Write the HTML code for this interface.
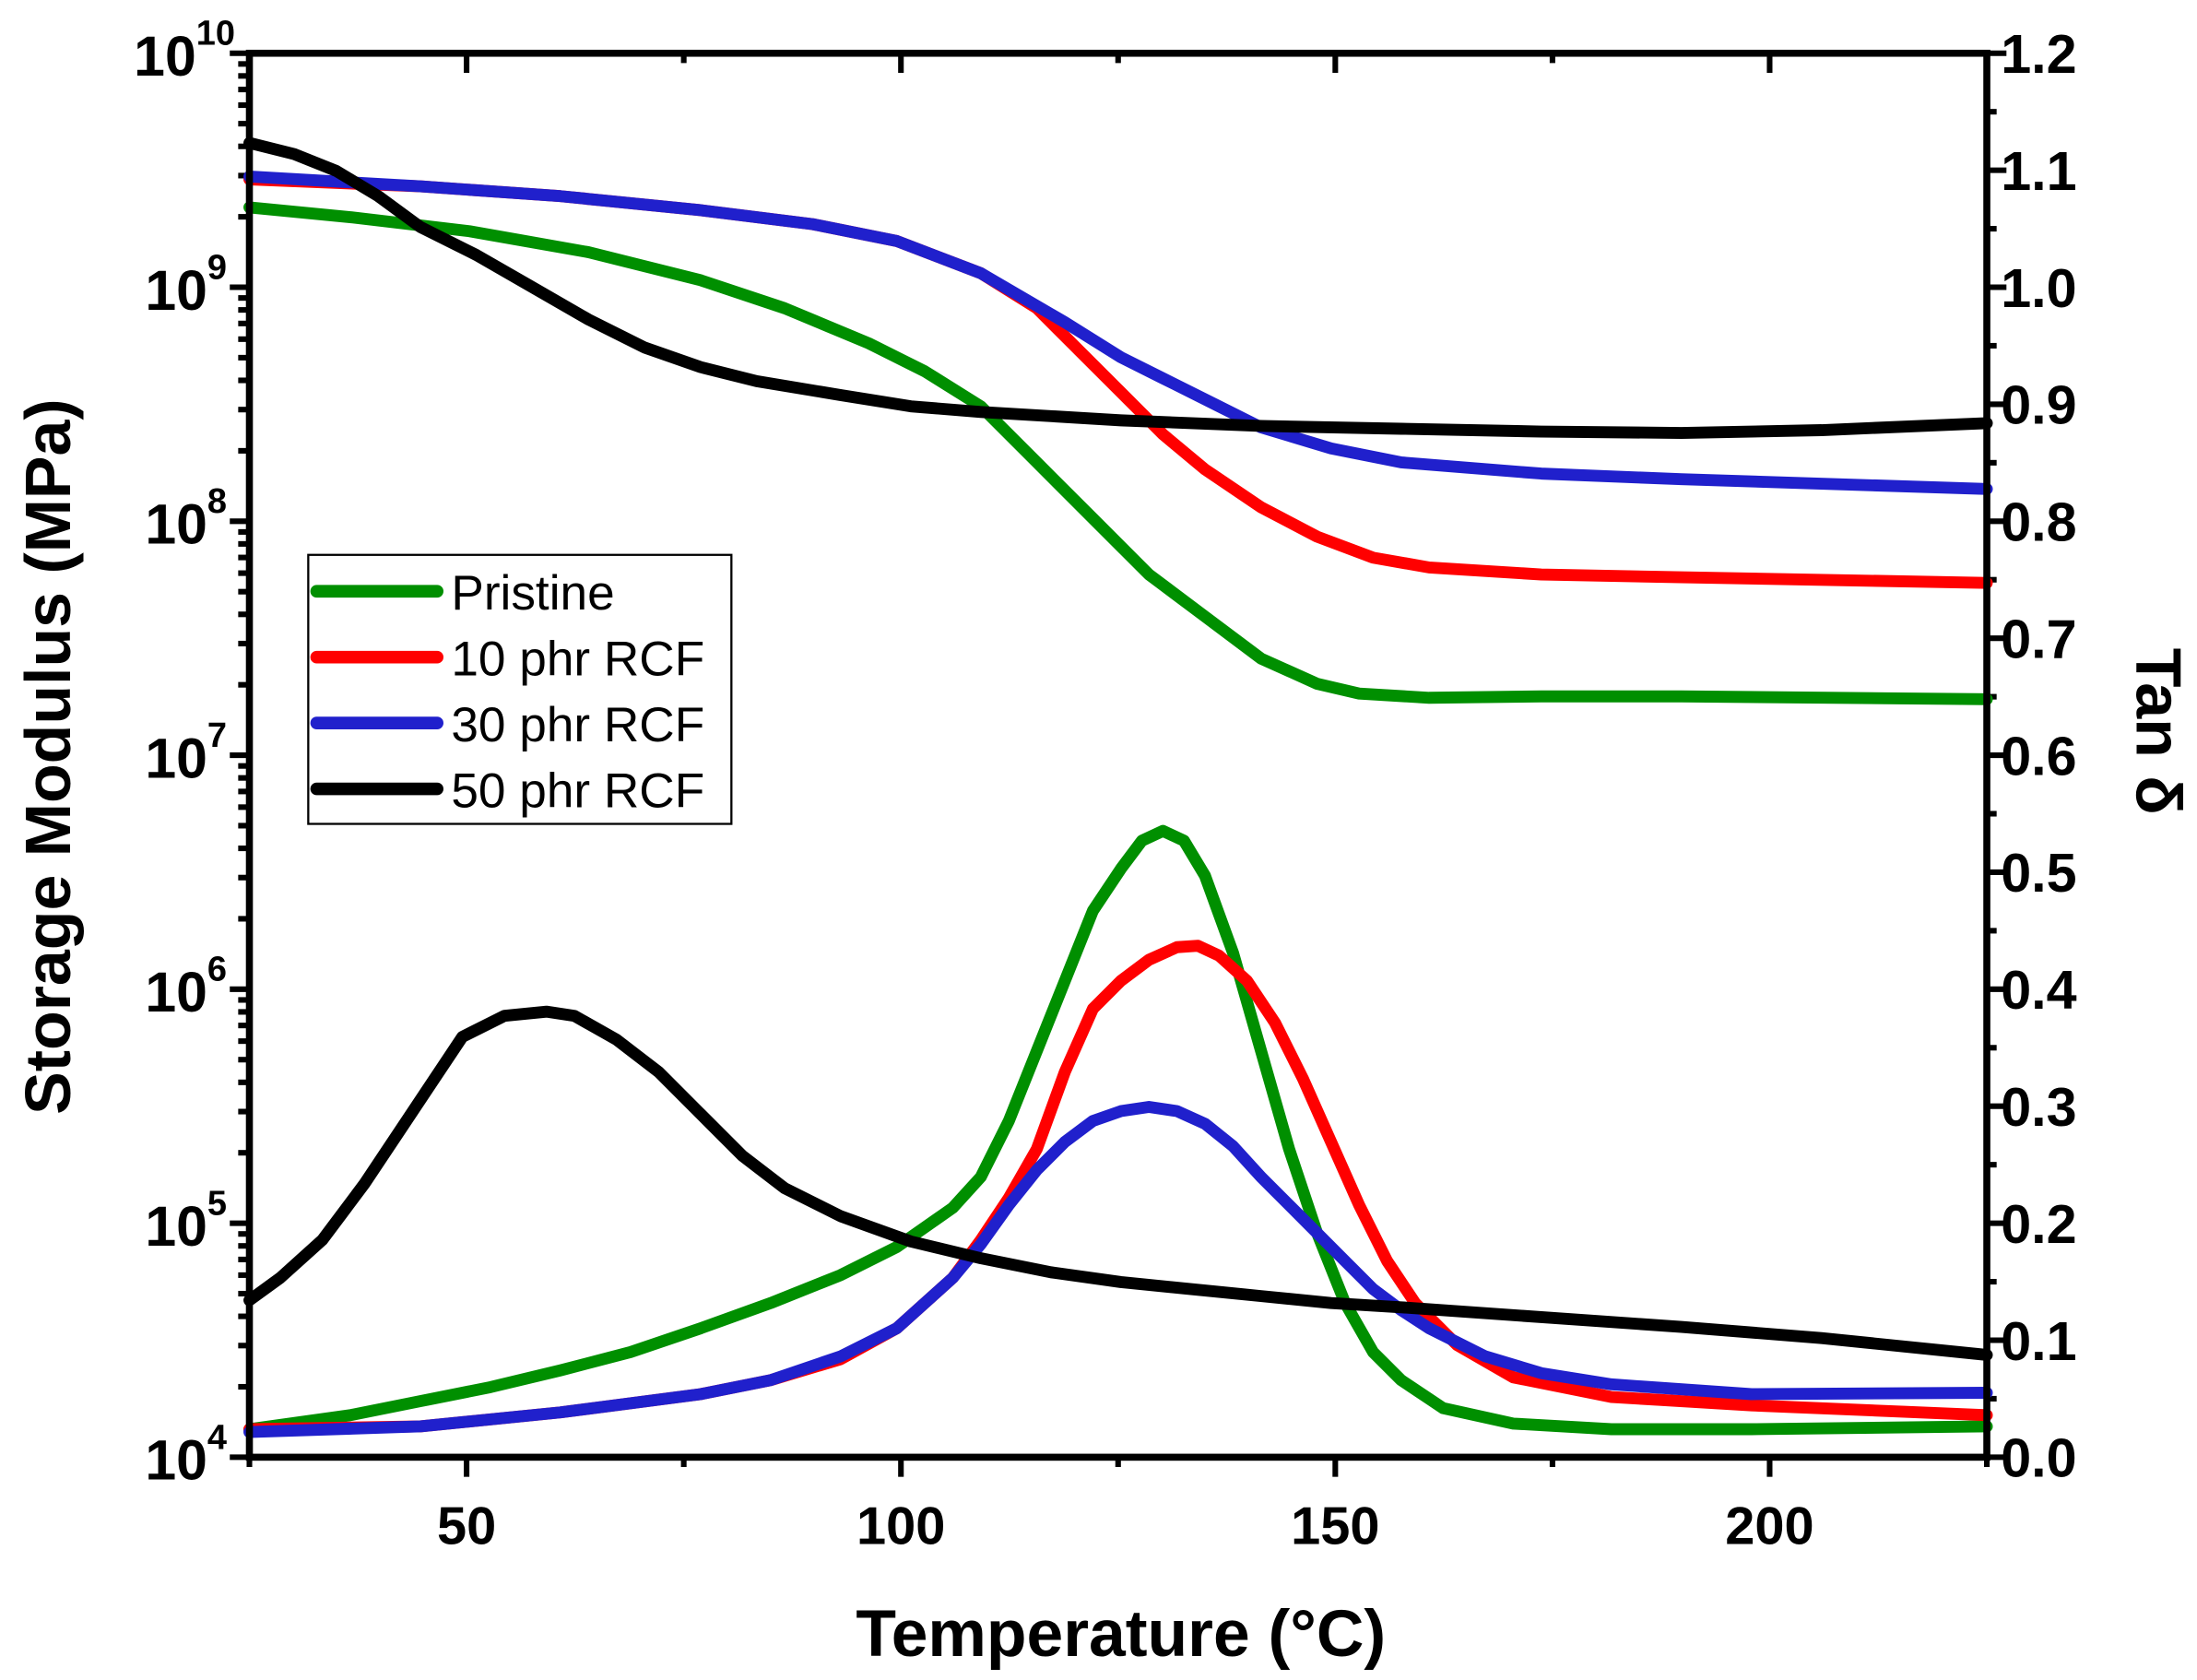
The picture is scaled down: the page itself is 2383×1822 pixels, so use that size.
<!DOCTYPE html>
<html><head><meta charset="utf-8"><style>
html,body{margin:0;padding:0;background:#fff;}
svg{display:block;}
text{font-family:"Liberation Sans",Arial,sans-serif;font-weight:bold;fill:#000;}
</style></head><body>
<svg id="s" width="2383" height="1822" viewBox="0 0 1568 1199" preserveAspectRatio="none" xmlns="http://www.w3.org/2000/svg">
<g id="ax"></g>
<g fill="none" stroke-width="8.5" stroke-linejoin="round" stroke-linecap="round">
<polyline stroke="#008f00" points="178,148 250,155 335,165 420,180 500,200 560,220 620,245 660,265 700,290 740,330 780,370 820,410 860,440 900,470 940,488 970,495 1020,498 1100,497 1200,497 1418,499"/>
<polyline stroke="#ff0000" points="178,128 300,133 400,140 500,150 580,160 640,172 700,195 740,220 770,250 800,280 830,310 860,335 900,362 940,383 980,398 1020,405 1100,410 1200,412 1418,416"/>
<polyline stroke="#2020cc" points="178,126 300,133 400,140 500,150 580,160 640,172 700,195 760,230 800,255 830,270 870,290 900,305 950,320 1000,330 1100,338 1200,342 1418,349"/>
<polyline stroke="#000" points="178,102 210,110 240,122 270,140 300,162 340,182 380,205 420,228 460,248 500,262 540,272 600,282 650,290 700,294 800,300 900,304 1000,306 1100,308 1200,309 1300,307 1418,302"/>
<polyline stroke="#008f00" points="178,1020 250,1010 300,1000 350,990 400,978 450,965 500,948 550,930 600,910 640,890 680,862 700,840 720,800 740,750 760,700 780,650 800,620 815,600 830,593 845,600 860,625 880,680 900,750 920,820 940,880 960,930 980,965 1000,985 1030,1005 1080,1016 1150,1020 1250,1020 1418,1018"/>
<polyline stroke="#ff0000" points="178,1020 300,1018 400,1008 500,995 550,985 600,970 640,948 680,912 700,885 720,855 740,820 760,765 780,720 800,700 820,685 840,676 855,675 870,682 890,700 910,730 930,770 950,815 970,860 990,900 1010,930 1040,960 1080,983 1150,997 1250,1003 1418,1010"/>
<polyline stroke="#2020cc" points="178,1022 300,1018 400,1008 500,995 550,985 600,968 640,948 680,912 700,888 720,860 740,835 760,815 780,800 800,793 820,790 840,793 860,802 880,818 900,840 920,860 940,880 960,900 980,920 1000,935 1020,948 1060,968 1100,980 1150,988 1250,995 1418,994"/>
<polyline stroke="#000" points="178,928 200,912 230,885 260,845 290,800 310,770 330,740 360,725 390,722 410,725 440,742 470,765 500,795 530,825 560,848 600,868 650,886 700,898 750,908 800,915 850,920 900,925 950,930 1000,933 1100,940 1200,947 1300,955 1418,967"/>
</g>
<rect x="178" y="38" width="1240" height="1002" fill="none" stroke="#000" stroke-width="5"/>
<g>
<rect x="220" y="396" width="302" height="192" fill="#fff" stroke="#000" stroke-width="1.5"/>
<g stroke-width="9" stroke-linecap="round">
<line x1="226" y1="422" x2="312" y2="422" stroke="#008f00"/>
<line x1="226" y1="469" x2="312" y2="469" stroke="#ff0000"/>
<line x1="226" y1="516" x2="312" y2="516" stroke="#2020cc"/>
<line x1="226" y1="563" x2="312" y2="563" stroke="#000"/>
</g>
<text x="322" y="435" font-size="35" style="font-weight:normal">Pristine</text>
<text x="322" y="482" font-size="35" style="font-weight:normal">10 phr RCF</text>
<text x="322" y="529" font-size="35" style="font-weight:normal">30 phr RCF</text>
<text x="322" y="576" font-size="35" style="font-weight:normal">50 phr RCF</text>
</g>
<text x="800" y="1182" font-size="47" text-anchor="middle">Temperature (°C)</text>
<text transform="translate(50,540) rotate(-90)" font-size="46" text-anchor="middle">Storage Modulus (MPa)</text>
<text transform="translate(1525,522) rotate(90)" font-size="46" text-anchor="middle">Tan δ</text>
</svg>
<script>
var g=document.getElementById('ax'),h='';
function L(x1,y1,x2,y2,w){h+='<line x1="'+x1+'" y1="'+y1+'" x2="'+x2+'" y2="'+y2+'" stroke="#000" stroke-width="'+w+'"/>';}
function T(x,y,s,a,fs){h+='<text x="'+x+'" y="'+y+'" font-size="'+(fs||38)+'" text-anchor="'+a+'">'+s+'</text>';}
var X=function(t){return 178+(t-25)*6.2;};
for(var t=25;t<=225;t+=25){var x=X(t),maj=(t%50==0);L(x,1040,x,1040+(maj?14:7),4);L(x,38,x,38+(maj?14:7),4);if(maj&&t<225)T(x,1102,t,'middle');}
for(var e=4;e<=10;e++){var y=1040-(e-4)*167;L(164,y,178,y,4);
h+='<text x="'+(e==10?140:148)+'" y="'+(y+16)+'" font-size="40" text-anchor="end">10</text><text x="'+(e==10?140:148)+'" y="'+(y-6)+'" font-size="25">'+e+'</text>';
if(e<10)for(var m=2;m<=9;m++){var yy=y-Math.log10(m)*167;L(170,yy,178,yy,4);}}
for(var i=0;i<=24;i++){var v=i*0.05,y=1040-v*835;var maj=(i%2==0);L(1418,y,1418+(maj?14:7),y,4);if(maj)T(1428,y+14,v.toFixed(1),'start',39);}
g.innerHTML=h;
</script>
</body></html>
